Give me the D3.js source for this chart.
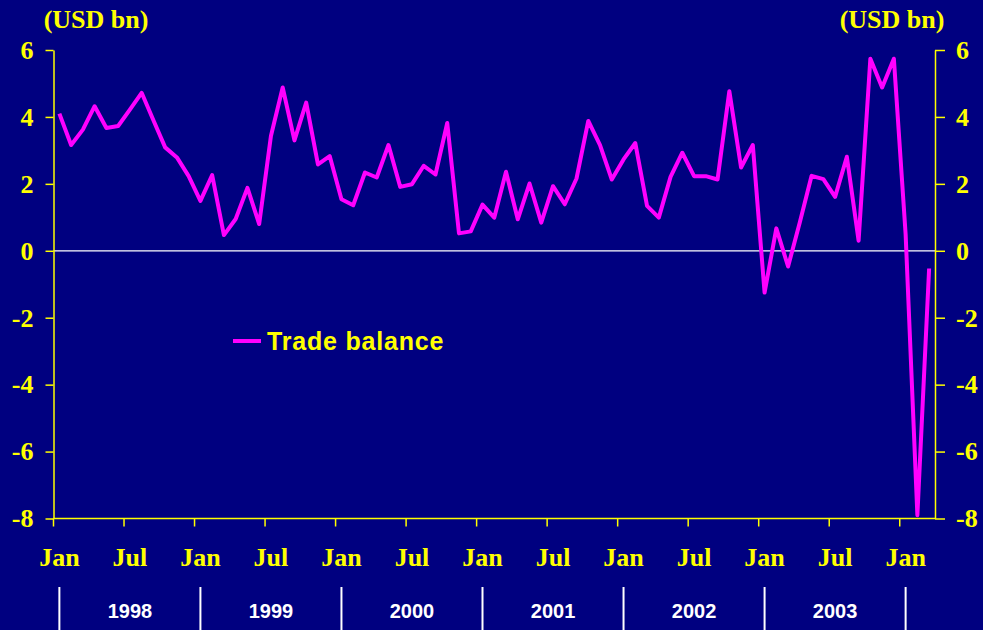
<!DOCTYPE html>
<html>
<head>
<meta charset="utf-8">
<script src="https://cdn.jsdelivr.net/npm/d3@7"></script>
<style>
  body { margin: 0; background: #000080; }
  svg { display: block; }
</style>
</head>
<body>
<svg width="983" height="630"></svg>
<script>
// monthly trade balance, USD bn, Jan 1998 - Mar 2004
var years = [1998, 1999, 2000, 2001, 2002, 2003, 2004]
var monthNames = ["Jan","Feb","Mar","Apr","May","Jun","Jul","Aug","Sep","Oct","Nov","Dec"]
var yTicks = [-8, -6, -4, -2, 0, 2, 4, 6]
var yearLabels = ["1998", "1999", "2000", "2001", "2002", "2003"]

var balance1998 = [4.10, 3.16, 3.62, 4.32, 3.67, 3.73, 4.22, 4.72, 3.90, 3.09, 2.79, 2.23]
var balance1999 = [1.49, 2.26, 0.47, 0.95, 1.88, 0.80, 3.43, 4.88, 3.30, 4.43, 2.58, 2.83]
var balance2000 = [1.54, 1.36, 2.34, 2.19, 3.16, 1.91, 1.99, 2.54, 2.28, 3.82, 0.52, 0.58]
var balance2001 = [1.38, 0.99, 2.36, 0.94, 2.01, 0.84, 1.93, 1.39, 2.16, 3.88, 3.16, 2.13]
var balance2002 = [2.73, 3.22, 1.34, 0.99, 2.21, 2.93, 2.23, 2.23, 2.13, 4.77, 2.49, 3.16]
var balance2003 = [-1.25, 0.67, -0.47, 0.85, 2.24, 2.14, 1.61, 2.81, 0.30, 5.74, 4.88, 5.74]
var balance2004 = [0.50, -7.90, -0.53]

var values = [].concat(balance1998, balance1999, balance2000, balance2001, balance2002, balance2003, balance2004)

// one category per month
var months = []
years.forEach(function(y) {
  monthNames.forEach(function(m, i) {
    if (months.length < values.length) months.push({ key: y + "-" + i, year: y, m: i, name: m })
  })
})
var data = months.map(function(d, i) { return { key: d.key, year: d.year, m: d.m, name: d.name, v: values[i] } })

var svg = d3.select("svg"),
    width = +svg.attr("width"),
    height = +svg.attr("height")

var plotLeft = 53.5, plotRight = 935, plotTop = 50, plotBottom = 518.5
var yellow = "#ffff00", serif = "'Liberation Serif', 'Times New Roman', serif", sans = "'Liberation Sans', Arial, sans-serif"

svg.append("rect").attr("width", width).attr("height", height).attr("fill", "#000080")

var x = d3.scaleBand()
    .domain(data.map(function(d) { return d.key }))
    .range([plotLeft, plotRight])

var y = d3.scaleLinear()
    .domain([-8, 6])
    .range([plotBottom, plotTop])

// zero line
svg.append("line")
    .attr("x1", plotLeft).attr("x2", plotRight)
    .attr("y1", y(0)).attr("y2", y(0))
    .attr("stroke", "#ffffff").attr("stroke-width", 1.2)

// y axes (plain hyphen for negatives, like the original)
var fmt = function(d) { return String(d) }
var yLeft = svg.append("g")
    .attr("transform", "translate(" + plotLeft + ",0)")
    .call(d3.axisLeft(y).tickValues(yTicks).tickFormat(fmt).tickSize(8).tickPadding(12).tickSizeOuter(0))
var yRight = svg.append("g")
    .attr("transform", "translate(" + plotRight + ",0)")
    .call(d3.axisRight(y).tickValues(yTicks).tickFormat(fmt).tickSize(10).tickPadding(11).tickSizeOuter(0))

;[yLeft, yRight].forEach(function(g) {
  g.select(".domain").attr("stroke", yellow).attr("stroke-width", 1.5)
  g.selectAll(".tick line").attr("stroke", yellow).attr("stroke-width", 1.5)
  g.selectAll(".tick text")
      .attr("fill", yellow)
      .style("font-family", serif)
      .style("font-size", "26px")
      .style("font-weight", "bold")
})

// x axis: ticks at Jan / Jul boundaries, labels centred on the month
var xAxis = svg.append("g")
xAxis.append("line")
    .attr("x1", plotLeft).attr("x2", plotRight)
    .attr("y1", plotBottom).attr("y2", plotBottom)
    .attr("stroke", yellow).attr("stroke-width", 1.5)

var halfYear = data.filter(function(d) { return d.m == 0 || d.m == 6 })

xAxis.selectAll(".xt")
    .data(halfYear)
    .enter().append("line")
    .attr("class", "xt")
    .attr("x1", function(d) { return x(d.key) }).attr("x2", function(d) { return x(d.key) })
    .attr("y1", plotBottom).attr("y2", plotBottom + 8)
    .attr("stroke", yellow).attr("stroke-width", 1.5)

xAxis.selectAll(".xl")
    .data(halfYear)
    .enter().append("text")
    .attr("class", "xl")
    .attr("x", function(d) { return x(d.key) + x.bandwidth() / 2 })
    .attr("y", 566)
    .attr("text-anchor", "middle")
    .attr("fill", yellow)
    .style("font-family", serif)
    .style("font-size", "26px")
    .style("font-weight", "bold")
    .text(function(d) { return d.name })

// year table below
var janKeys = data.filter(function(d) { return d.m == 0 })
var sepX = janKeys.map(function(d) { return x(d.key) + x.bandwidth() / 2 })

svg.selectAll(".sep")
    .data(sepX)
    .enter().append("line")
    .attr("class", "sep")
    .attr("x1", function(d) { return d }).attr("x2", function(d) { return d })
    .attr("y1", 587).attr("y2", 630)
    .attr("stroke", "#ffffff").attr("stroke-width", 2)

svg.selectAll(".yr")
    .data(yearLabels)
    .enter().append("text")
    .attr("class", "yr")
    .attr("x", function(d, i) { return (sepX[i] + sepX[i + 1]) / 2 })
    .attr("y", 618)
    .attr("text-anchor", "middle")
    .attr("fill", "#ffffff")
    .style("font-family", sans)
    .style("font-size", "20px")
    .style("font-weight", "bold")
    .text(function(d) { return d })

// units
svg.append("text")
    .attr("x", 96).attr("y", 28)
    .attr("text-anchor", "middle")
    .attr("fill", yellow)
    .style("font-family", serif).style("font-size", "26px").style("font-weight", "bold")
    .text("(USD bn)")
svg.append("text")
    .attr("x", 892).attr("y", 28)
    .attr("text-anchor", "middle")
    .attr("fill", yellow)
    .style("font-family", serif).style("font-size", "26px").style("font-weight", "bold")
    .text("(USD bn)")

// the series
var line = d3.line()
    .x(function(d) { return x(d.key) + x.bandwidth() / 2 })
    .y(function(d) { return y(d.v) })

svg.append("path")
    .datum(data)
    .attr("d", line)
    .attr("fill", "none")
    .attr("stroke", "#ff00ff")
    .attr("stroke-width", 4)
    .attr("stroke-linejoin", "round")

// legend
var legend = svg.append("g").attr("transform", "translate(233,341)")
legend.append("line")
    .attr("x1", 0).attr("x2", 28)
    .attr("stroke", "#ff00ff").attr("stroke-width", 4)
legend.append("text")
    .attr("x", 34).attr("y", 9)
    .attr("fill", yellow)
    .style("font-family", sans).style("font-size", "25px").style("font-weight", "bold")
    .style("letter-spacing", "0.8px")
    .text("Trade balance")
</script>
</body>
</html>
